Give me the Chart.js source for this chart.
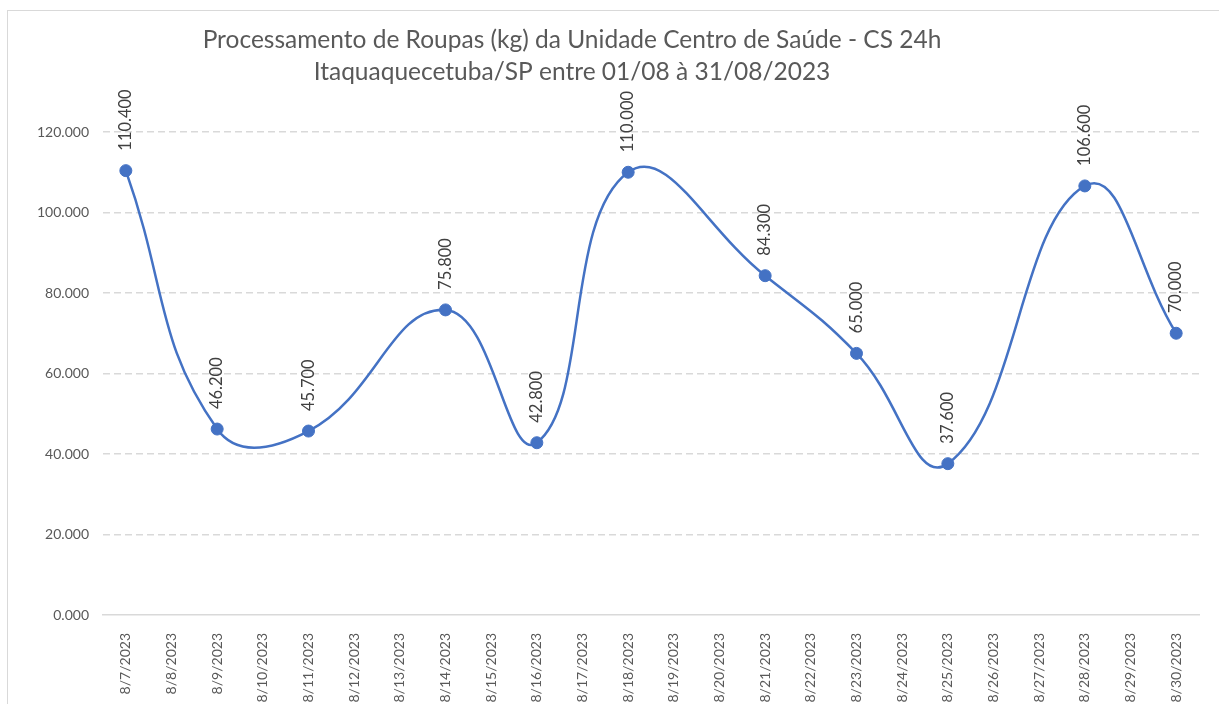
<!DOCTYPE html>
<html>
<head>
<meta charset="utf-8">
<script src="https://cdn.jsdelivr.net/npm/chart.js@4"></script>
<style>
    html, body { margin: 0; padding: 0; background: #fff; }
    #wrap { position: absolute; left: 0; top: 0; width: 1219px; height: 704px; }
    #frame { position: absolute; left: 7px; top: 10px; width: 1220px; height: 700px; border: 1px solid #d9d9d9; box-sizing: border-box; }
</style>
</head>
<body>
<div id="wrap">
    <div id="frame"></div>
    <canvas id="myChart" width="1219" height="704"></canvas>
</div>
<script>
const ctx = document.getElementById('myChart');

const tituloLinhas = [
    'Processamento de Roupas (kg) da Unidade Centro de Saúde - CS 24h',
    'Itaquaquecetuba/SP entre 01/08 à 31/08/2023'
];

const dias = [
    '8/7/2023', '8/8/2023', '8/9/2023', '8/10/2023', '8/11/2023', '8/12/2023',
    '8/13/2023', '8/14/2023', '8/15/2023', '8/16/2023', '8/17/2023', '8/18/2023',
    '8/19/2023', '8/20/2023', '8/21/2023', '8/22/2023', '8/23/2023', '8/24/2023',
    '8/25/2023', '8/26/2023', '8/27/2023', '8/28/2023', '8/29/2023', '8/30/2023'
];

// kg processados (null = sem registro no dia)
const roupasKg = [
    110.4, null, 46.2, null, 45.7, null,
    null, 75.8, null, 42.8, null, 110.0,
    null, null, 84.3, null, 65.0, null,
    37.6, null, null, 106.6, null, 70.0
];

const yMin = 0;
const yMax = 120;
const yPasso = 20;

const corLinha = '#4472C4';
const corTexto = '#595959';
const fonte = 'Lato, "Open Sans", sans-serif';

// titulo desenhado a mao pra poder deslocar o centro
const tituloPlugin = {
    id: 'tituloPlugin',
    afterDraw(chart) {
        const c = chart.ctx;
        c.save();
        c.fillStyle = corTexto;
        c.font = '24.5px ' + fonte;
        c.textAlign = 'center';
        c.textBaseline = 'middle';
        c.fillText(tituloLinhas[0], 572, 40);
        c.fillText(tituloLinhas[1], 572, 72);
        c.restore();
    }
};

// rotulos de dados verticais em cima de cada ponto
const rotulosPlugin = {
    id: 'rotulosPlugin',
    afterDatasetsDraw(chart) {
        const c = chart.ctx;
        const meta = chart.getDatasetMeta(0);
        c.save();
        c.fillStyle = '#404040';
        c.font = '16.5px ' + fonte;
        c.textAlign = 'left';
        c.textBaseline = 'middle';
        meta.data.forEach((pt, i) => {
            const v = roupasKg[i];
            if (v === null) return;
            c.save();
            c.translate(pt.x, pt.y - 20);
            c.rotate(-Math.PI / 2);
            c.fillText(v.toFixed(3), 0, 0);
            c.restore();
        });
        c.restore();
    }
};

let chart = {
    type: 'line',
    data: {
        labels: dias,
        datasets: [{
            label: 'Roupas (kg)',
            data: roupasKg,
            spanGaps: true,
            fill: false,
            tension: 0.45,
            borderWidth: 2.5,
            borderColor: corLinha,
            backgroundColor: corLinha,
            pointRadius: 6,
            pointBorderWidth: 1,
            pointBackgroundColor: corLinha,
            pointBorderColor: corLinha
        }]
    },
    options: {
        responsive: false,
        animation: false,
        layout: {
            padding: { left: 8, top: 132, right: 20, bottom: 0 }
        },
        plugins: {
            legend: { display: false },
            title: { display: false },
            tooltip: { enabled: false }
        },
        scales: {
            x: {
                offset: true,
                grid: { display: false },
                border: { display: true, color: '#d9d9d9', width: 1.5 },
                ticks: {
                    color: corTexto,
                    font: { size: 14, family: fonte },
                    minRotation: 90,
                    maxRotation: 90,
                    autoSkip: false,
                    padding: 10
                },
                afterFit(scale) { scale.height = 89; }
            },
            y: {
                min: yMin,
                max: yMax,
                grid: {
                    drawTicks: false,
                    color: c => c.tick && c.tick.value === 0 ? 'rgba(0,0,0,0)' : '#d9d9d9',
                    lineWidth: 1.5
                },
                border: { display: false, dash: [7, 4] },
                ticks: {
                    stepSize: yPasso,
                    color: corTexto,
                    font: { size: 14, family: fonte },
                    padding: 14,
                    callback: v => Number(v).toFixed(3)
                },
                afterFit(scale) { scale.width = 95; }
            }
        }
    },
    plugins: [tituloPlugin, rotulosPlugin]
};

let chartObj = new Chart(ctx, chart);
</script>
</body>
</html>
